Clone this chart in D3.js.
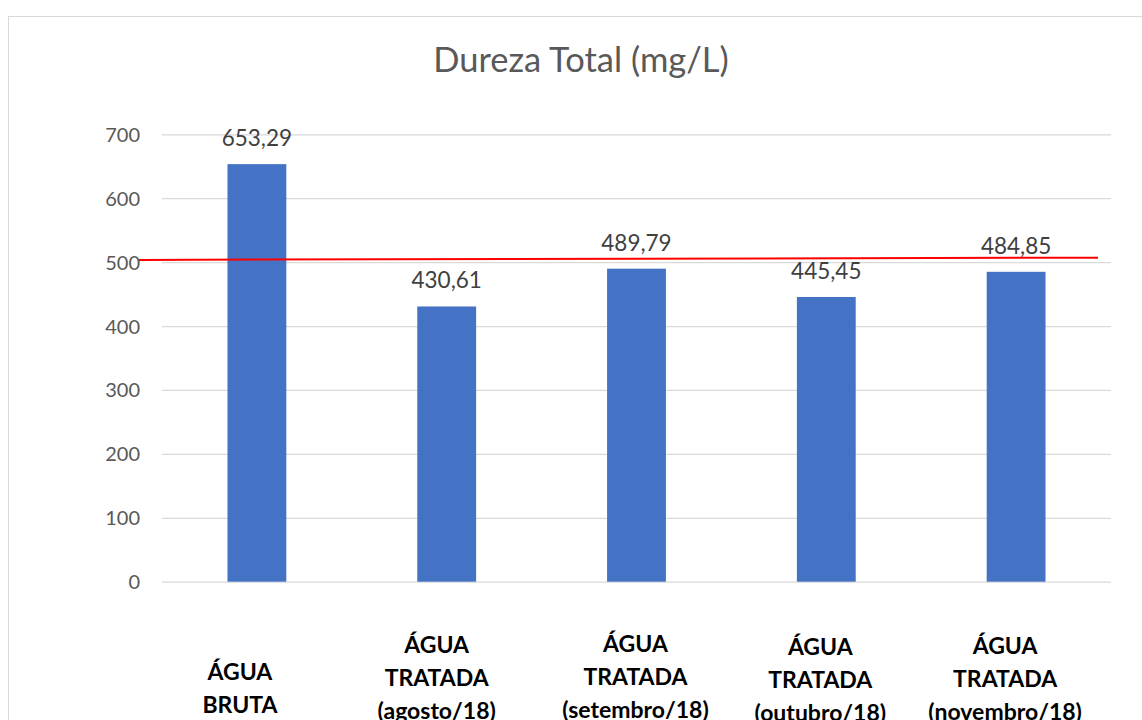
<!DOCTYPE html>
<html>
<head>
<meta charset="utf-8">
<script src="https://cdn.jsdelivr.net/npm/d3@7"></script>
<style>
  html, body { margin: 0; padding: 0; background: #fff; }
  svg { display: block; }
  text { font-family: Lato, "Open Sans", sans-serif; }
</style>
</head>
<body>
<svg id="chart" width="1142" height="720"></svg>
<script>
// Dureza total por amostra (mg/L)
const categories = [
  ["ÁGUA", "BRUTA"],
  ["ÁGUA", "TRATADA", "(agosto/18)"],
  ["ÁGUA", "TRATADA", "(setembro/18)"],
  ["ÁGUA", "TRATADA", "(outubro/18)"],
  ["ÁGUA", "TRATADA", "(novembro/18)"]
];
const values = [653.29, 430.61, 489.79, 445.45, 484.85];
const yTicks = [0, 100, 200, 300, 400, 500, 600, 700];
// hand-drawn limit line (VMP 500 mg/L), left and right end values
const limitLineEnds = [503.5, 507];
const title = "Dureza Total (mg/L)";

const svg = d3.select("#chart");
const plot = { left: 162, right: 1111, top: 134.3, bottom: 581.7 };

// chart frame
svg.append("rect")
  .attr("x", 8.5).attr("y", 16.5)
  .attr("width", 1200).attr("height", 800)
  .attr("fill", "#fff").attr("stroke", "#d9d9d9").attr("stroke-width", 1);

const keys = categories.map((c, i) => i);
const x = d3.scaleBand()
  .domain(keys)
  .range([plot.left, plot.right])
  .paddingInner(0.69)
  .paddingOuter(0.345);

const y = d3.scaleLinear()
  .domain([0, 700])
  .range([plot.bottom, plot.top]);

// gridlines + tick labels
const yAxis = d3.axisLeft(y)
  .tickValues(yTicks)
  .tickSize(-(plot.right - plot.left))
  .tickPadding(22)
  .tickFormat(d3.format("d"));

const gy = svg.append("g")
  .attr("transform", `translate(${plot.left},0)`)
  .call(yAxis);
gy.select(".domain").remove();
gy.selectAll(".tick line").attr("stroke", "#d9d9d9").attr("stroke-width", 1.3);
gy.selectAll(".tick text")
  .attr("fill", "#595959")
  .attr("font-size", 20)
  .attr("dy", "0.35em");

// bars
svg.append("g").selectAll("rect")
  .data(values)
  .join("rect")
  .attr("x", (d, i) => x(i))
  .attr("y", d => y(d))
  .attr("width", x.bandwidth())
  .attr("height", d => y(0) - y(d))
  .attr("fill", "#4472c4");

// value labels
const fmt = d3.formatLocale({ decimal: ",", thousands: ".", grouping: [3], currency: ["", ""] }).format(".2f");
svg.append("g").selectAll("text")
  .data(values)
  .join("text")
  .attr("x", (d, i) => x(i) + x.bandwidth() / 2)
  .attr("y", d => y(d) - 18)
  .attr("text-anchor", "middle")
  .attr("fill", "#404040")
  .attr("font-size", 22.5)
  .text(d => fmt(d));

// limit line
svg.append("line")
  .attr("x1", plot.left - 23).attr("x2", plot.right - 13)
  .attr("y1", y(limitLineEnds[0])).attr("y2", y(limitLineEnds[1]))
  .attr("stroke", "#ff0000").attr("stroke-width", 2);

// title
svg.append("text")
  .attr("x", 581).attr("y", 72)
  .attr("text-anchor", "middle")
  .attr("fill", "#595959")
  .attr("font-size", 34.5)
  .text(title);

// category labels (text boxes below the plot)
const labelNudge = [
  { dx: -17, y0: 680 },
  { dx: -10, y0: 653 },
  { dx: -1, y0: 652 },
  { dx: -6, y0: 655 },
  { dx: -11, y0: 654 }
];
const lineH = 33;
svg.append("g").selectAll("text")
  .data(categories)
  .join("text")
  .attr("text-anchor", "middle")
  .attr("fill", "#000")
  .attr("font-weight", "bold")
  .attr("font-size", 23)
  .each(function (lines, i) {
    const cx = x(i) + x.bandwidth() / 2 + labelNudge[i].dx;
    d3.select(this).selectAll("tspan")
      .data(lines)
      .join("tspan")
      .attr("x", cx)
      .attr("y", (d, j) => labelNudge[i].y0 + j * lineH)
      .text(d => d);
  });
</script>
</body>
</html>
